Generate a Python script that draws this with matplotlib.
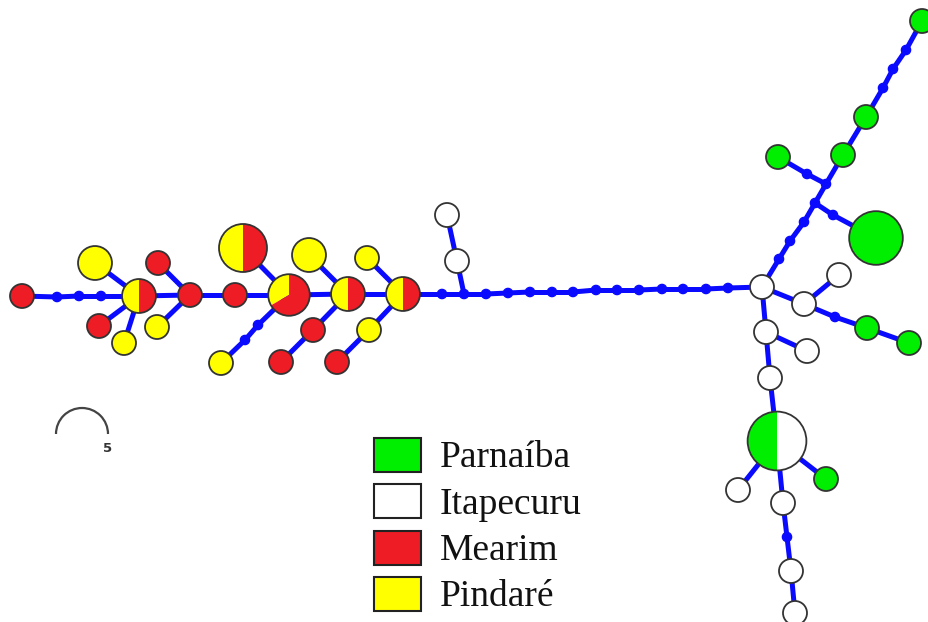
import numpy as np
import matplotlib
matplotlib.use('agg')
import matplotlib.pyplot as plt
from matplotlib.patches import Circle, Wedge, Arc, Rectangle

# populations and their colours
pops = ['Parnaíba', 'Itapecuru', 'Mearim', 'Pindaré']
pop_colors = ['#00ee00', '#ffffff', '#ee1c24', '#ffff00']

# haplotypes: layout position, counts per population (Parnaíba, Itapecuru, Mearim, Pindaré)
hap_names = ['h1', 'A', 'yA', 'rA', 'yA2', 'B', 'rB', 'yB', 'C', 'D', 'E', 'yE',
             'yF', 'F', 'rF', 'rF2', 'G', 'yG', 'yG2', 'rG', 'W1', 'W2',
             'H', 'bigP', 'gL', 'g1', 'g2', 'gTop', 'w3', 'w4', 'g3', 'g4',
             'w5', 'w6', 'w7', 'pie2', 'w8', 'g5', 'w9', 'w10', 'w11']
hap_x = [22, 139, 95, 99, 124, 190, 158, 157, 235, 243, 289, 221,
         309, 348, 313, 281, 403, 367, 369, 337, 457, 447,
         762, 876, 778, 843, 866, 922, 804, 839, 867, 909,
         766, 807, 770, 777, 738, 826, 783, 791, 795]
hap_y = [296, 296, 263, 326, 343, 295, 263, 327, 295, 248, 295, 363,
         255, 294, 330, 362, 294, 258, 330, 362, 261, 215,
         287, 238, 157, 155, 117, 21, 304, 275, 328, 343,
         332, 351, 378, 441, 490, 479, 503, 571, 613]
hap_counts = [
    [0, 0, 1, 0], [0, 0, 1, 1], [0, 0, 0, 2], [0, 0, 1, 0], [0, 0, 0, 1],
    [0, 0, 1, 0], [0, 0, 1, 0], [0, 0, 0, 1], [0, 0, 1, 0], [0, 0, 2, 2],
    [0, 0, 2, 1], [0, 0, 0, 1], [0, 0, 0, 2], [0, 0, 1, 1], [0, 0, 1, 0],
    [0, 0, 1, 0], [0, 0, 1, 1], [0, 0, 0, 1], [0, 0, 0, 1], [0, 0, 1, 0],
    [0, 1, 0, 0], [0, 1, 0, 0],
    [0, 1, 0, 0], [5, 0, 0, 0], [1, 0, 0, 0], [1, 0, 0, 0], [1, 0, 0, 0],
    [1, 0, 0, 0], [0, 1, 0, 0], [0, 1, 0, 0], [1, 0, 0, 0], [1, 0, 0, 0],
    [0, 1, 0, 0], [0, 1, 0, 0], [0, 1, 0, 0], [3, 3, 0, 0], [0, 1, 0, 0],
    [1, 0, 0, 0], [0, 1, 0, 0], [0, 1, 0, 0], [0, 1, 0, 0],
]
# order in which slices go round a pie (from the top, anticlockwise)
slice_order = [3, 0, 1, 2]

# median vectors (inferred, unsampled)
med_names = ['m1', 'm2', 'm3', 'm4', 'm5', 'm6', 'm7',
             'c1', 'c2', 'c3', 'c4', 'c5', 'c6', 'c7', 'c8', 'c9', 'c10', 'c11', 'c12',
             'u1', 'u2', 'u3', 'J1', 'J2', 'k1', 'k2', 'n1', 'n2', 'n3', 'n4', 'd1']
med_x = [57, 79, 101, 258, 245, 442, 464,
         486, 508, 530, 552, 573, 596, 617, 639, 662, 683, 706, 728,
         779, 790, 804, 815, 826, 833, 807, 883, 893, 906, 835, 787]
med_y = [297, 296, 296, 325, 340, 294, 294,
         294, 293, 292, 292, 292, 290, 290, 290, 289, 289, 289, 288,
         259, 241, 222, 203, 184, 215, 174, 88, 69, 50, 317, 537]

edges = [
    ('h1', 'm1'), ('m1', 'm2'), ('m2', 'm3'), ('m3', 'A'),
    ('A', 'yA'), ('A', 'rA'), ('A', 'yA2'), ('A', 'B'),
    ('B', 'rB'), ('B', 'yB'), ('B', 'C'), ('C', 'E'), ('D', 'E'),
    ('E', 'm4'), ('m4', 'm5'), ('m5', 'yE'), ('E', 'F'),
    ('yF', 'F'), ('F', 'rF'), ('rF', 'rF2'), ('F', 'G'),
    ('yG', 'G'), ('G', 'yG2'), ('yG2', 'rG'), ('G', 'm6'), ('m6', 'm7'),
    ('m7', 'W1'), ('W1', 'W2'), ('m7', 'c1'),
    ('c1', 'c2'), ('c2', 'c3'), ('c3', 'c4'), ('c4', 'c5'), ('c5', 'c6'),
    ('c6', 'c7'), ('c7', 'c8'), ('c8', 'c9'), ('c9', 'c10'), ('c10', 'c11'),
    ('c11', 'c12'), ('c12', 'H'),
    ('H', 'u1'), ('u1', 'u2'), ('u2', 'u3'), ('u3', 'J1'),
    ('J1', 'k1'), ('k1', 'bigP'), ('J1', 'J2'),
    ('J2', 'k2'), ('k2', 'gL'), ('J2', 'g1'), ('g1', 'g2'),
    ('g2', 'n1'), ('n1', 'n2'), ('n2', 'n3'), ('n3', 'gTop'),
    ('H', 'w3'), ('w3', 'w4'), ('w3', 'n4'), ('n4', 'g3'), ('g3', 'g4'),
    ('H', 'w5'), ('w5', 'w6'), ('w5', 'w7'), ('w7', 'pie2'),
    ('pie2', 'w8'), ('pie2', 'g5'), ('pie2', 'w9'),
    ('w9', 'd1'), ('d1', 'w10'), ('w10', 'w11'),
]

pos = {n: (x, y) for n, x, y in zip(hap_names, hap_x, hap_y)}
pos.update({n: (x, y) for n, x, y in zip(med_names, med_x, med_y)})

fig = plt.figure(figsize=(9.29, 6.22), dpi=100)
ax = fig.add_axes([0, 0, 1, 1])
ax.set_xlim(0, 929)
ax.set_ylim(622, 0)
ax.set_aspect('equal')
ax.axis('off')

blue = '#0a0aff'
for a, b in edges:
    (x1, y1), (x2, y2) = pos[a], pos[b]
    ax.plot([x1, x2], [y1, y2], color=blue, lw=3.6, solid_capstyle='round', zorder=1)

for x, y in zip(med_x, med_y):
    ax.add_patch(Circle((x, y), 4.6, color=blue, zorder=2))

# node area proportional to number of sequences
r1 = 12.0
for x, y, cnt in zip(hap_x, hap_y, hap_counts):
    total = sum(cnt)
    r = r1 * np.sqrt(total)
    start = 90.0
    for k in slice_order:
        if cnt[k] == 0:
            continue
        span = 360.0 * cnt[k] / total
        # y axis is inverted, so angles are mirrored
        ax.add_patch(Wedge((x, y), r, -(start + span), -start,
                           facecolor=pop_colors[k], edgecolor='none', zorder=3))
        start += span
    ax.add_patch(Circle((x, y), r, facecolor='none', edgecolor='#333333',
                        lw=1.3, zorder=4))

# scale for one sequence... drawn as a half circle
ax.add_patch(Arc((82, 434), 52, 52, theta1=180, theta2=360, color='#444444', lw=1.6))
ax.text(108, 449, '5', fontsize=9.5, color='#333333', ha='center', va='center',
        fontweight='bold')

# legend
leg_base = [467, 514, 560, 606]
box_top = [438, 484, 531, 577]
for name, col, yb, yt in zip(pops, pop_colors, leg_base, box_top):
    ax.add_patch(Rectangle((374, yt), 47, 34, facecolor=col, edgecolor='#222222',
                           lw=1.5, zorder=3))
    ax.text(440, yb, name, fontsize=27, family='Liberation Serif',
            ha='left', va='baseline', color='#111111')

fig.savefig('out.png', dpi=100)
